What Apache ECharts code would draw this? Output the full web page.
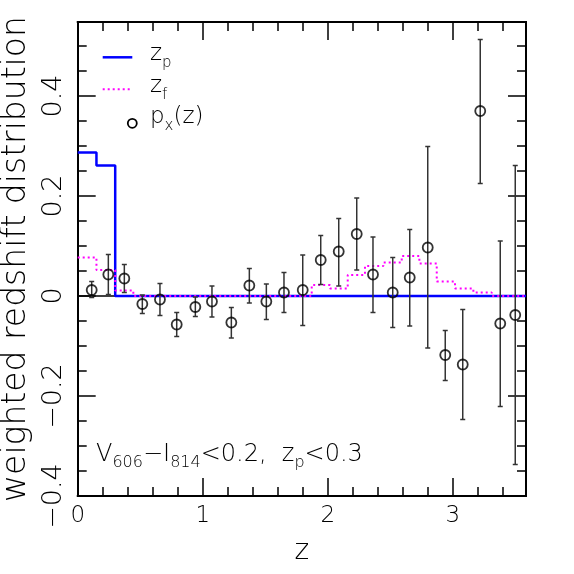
<!DOCTYPE html>
<html><head><meta charset="utf-8">
<script src="https://cdn.jsdelivr.net/npm/echarts@6/dist/echarts.min.js"></script>
<style>html,body{margin:0;padding:0;background:#fff}#c{width:574px;height:574px}</style>
</head><body><div id="c"></div>
<script>
// ---- data ----
const pointZ     = [0.112, 0.245, 0.373, 0.517, 0.658, 0.792, 0.941, 1.074, 1.229, 1.373, 1.509, 1.650, 1.800, 1.944, 2.088, 2.232, 2.362, 2.520, 2.656, 2.800, 2.940, 3.080, 3.220, 3.380, 3.500];
const pointValue = [0.012, 0.043, 0.035, -0.016, -0.007, -0.057, -0.022, -0.011, -0.053, 0.021, -0.011, 0.007, 0.012, 0.072, 0.089, 0.124, 0.043, 0.007, 0.037, 0.097, -0.118, -0.137, 0.370, -0.055, -0.038];
const errorHigh  = [0.029, 0.083, 0.063, 0.002, 0.025, -0.033, -0.002, 0.020, -0.023, 0.055, 0.024, 0.047, 0.082, 0.121, 0.155, 0.196, 0.118, 0.077, 0.133, 0.299, -0.069, -0.027, 0.513, 0.110, 0.261];
const errorLow   = [-0.003, 0.003, 0.007, -0.035, -0.039, -0.081, -0.041, -0.042, -0.084, -0.014, -0.047, -0.033, -0.059, 0.023, 0.020, 0.052, -0.033, -0.063, -0.060, -0.104, -0.169, -0.247, 0.225, -0.221, -0.337];

const zpEdges  = [0, 0.15, 0.30];
const zpValues = [0.287, 0.261, 0];

const zfEdges  = [0, 0.15, 0.30, 0.445, 1.872, 2.018, 2.160, 2.298, 2.445, 2.592, 2.733, 2.872, 3.018, 3.165, 3.312];
const zfValues = [0.077, 0.052, 0.011, 0, 0.022, 0.015, 0.042, 0.060, 0.067, 0.080, 0.065, 0.029, 0.015, 0.007, 0];

const xTickValues = [0, 1, 2, 3];
const xTickLabels = ['0', '1', '2', '3'];
const yTickValues = [-0.4, -0.2, 0, 0.2, 0.4];
const yTickLabels = ['\u22120.4', '\u22120.2', '0', '0.2', '0.4'];

const X_MIN = 0, X_MAX = 3.586, Y_MIN = -0.4, Y_MAX = 0.548;

// ---- build ----
function stepData(edges, values) {
  const d = edges.map((e, i) => [e, values[i]]);
  d.push([X_MAX, values[values.length - 1]]);
  return d;
}
function labelFor(vals, labs) {
  return function (v) {
    for (let i = 0; i < vals.length; i++) if (Math.abs(v - vals[i]) < 1e-6) return labs[i];
    return '';
  };
}
const FONT = 'DejaVu Sans';
const FW = 200;
const gridBox = { left: 77.7, right: 48, top: 22, bottom: 78, outerBoundsMode: 'none', containLabel: false };
const grids = [0, 1, 2, 3].map(() => Object.assign({}, gridBox));

function xAx(idx, pos, interval, len, labels) {
  return {
    type: 'value', gridIndex: idx, position: pos, min: X_MIN, max: X_MAX, interval: interval,
    axisLine: { show: true, onZero: false, lineStyle: { color: '#000', width: 2 } },
    axisTick: { show: true, inside: true, length: len, lineStyle: { color: '#000', width: 1.5 } },
    splitLine: { show: false },
    axisLabel: labels ? { show: true, margin: 9, color: '#000', fontFamily: FONT, fontWeight: FW, fontSize: 23, formatter: labelFor(xTickValues, xTickLabels) } : { show: false },
    name: labels ? 'z' : '', nameLocation: 'middle', nameGap: 42,
    nameTextStyle: { color: '#000', fontFamily: FONT, fontWeight: FW, fontSize: 28 }
  };
}
function yAx(idx, pos, interval, len, labels) {
  return {
    type: 'value', gridIndex: idx, position: pos, min: Y_MIN, max: Y_MAX, interval: interval,
    axisLine: { show: true, onZero: false, lineStyle: { color: '#000', width: 2 } },
    axisTick: { show: true, inside: true, length: len, lineStyle: { color: '#000', width: 1.5 } },
    splitLine: { show: false },
    axisLabel: labels ? { show: true, rotate: 90, margin: 10, color: '#000', fontFamily: FONT, fontWeight: FW, fontSize: 27, formatter: labelFor(yTickValues, yTickLabels) } : { show: false },
    name: labels ? 'weighted redshift distribution' : '', nameLocation: 'middle', nameGap: 40, nameRotate: 90,
    nameTextStyle: { color: '#000', fontFamily: FONT, fontWeight: FW, fontSize: 33 }
  };
}

const errData = pointZ.map((z, i) => [z, errorLow[i], errorHigh[i]]);
const ptData = pointZ.map((z, i) => [z, pointValue[i]]);

function richStyle(mainSize, subSize, drop) {
  return {
    m: { fontFamily: FONT, fontWeight: FW, fontSize: mainSize, lineHeight: mainSize + 6, verticalAlign: 'top', fill: '#000' },
    s: { fontFamily: FONT, fontWeight: FW, fontSize: subSize, lineHeight: subSize, verticalAlign: 'top', padding: [drop, 0, 0, 0], fill: '#000' }
  };
}

const option = {
  animation: false,
  backgroundColor: '#fff',
  grid: grids,
  xAxis: [xAx(0, 'bottom', 1, 18, true), xAx(1, 'top', 1, 18, false), xAx(2, 'bottom', 0.2, 9, false), xAx(3, 'top', 0.2, 9, false)],
  yAxis: [yAx(0, 'left', 0.2, 18, true), yAx(1, 'right', 0.2, 18, false), yAx(2, 'left', 0.05, 9, false), yAx(3, 'right', 0.05, 9, false)],
  series: [
    {
      type: 'line', name: 'zero', xAxisIndex: 0, yAxisIndex: 0, data: [[X_MIN, 0], [X_MAX, 0]],
      symbol: 'none', lineStyle: { color: '#000', width: 1.5 }, z: 1
    },
    {
      type: 'line', name: 'zp', xAxisIndex: 0, yAxisIndex: 0, step: 'end', data: stepData(zpEdges, zpValues),
      symbol: 'none', lineStyle: { color: '#0000ff', width: 2.5 }, z: 2
    },
    {
      type: 'line', name: 'zf', xAxisIndex: 0, yAxisIndex: 0, step: 'end', data: stepData(zfEdges, zfValues),
      symbol: 'none', lineStyle: { color: '#ff00ff', width: 2, type: [2, 3] }, z: 3
    },
    {
      type: 'custom', name: 'err', xAxisIndex: 0, yAxisIndex: 0, data: errData, z: 4,
      renderItem: function (params, api) {
        const lo = api.coord([api.value(0), api.value(1)]);
        const hi = api.coord([api.value(0), api.value(2)]);
        const st = { stroke: '#333', lineWidth: 1.5 };
        const c = 2.5;
        return { type: 'group', children: [
          { type: 'line', shape: { x1: lo[0], y1: lo[1], x2: hi[0], y2: hi[1] }, style: st },
          { type: 'line', shape: { x1: lo[0] - c, y1: lo[1], x2: lo[0] + c, y2: lo[1] }, style: st },
          { type: 'line', shape: { x1: hi[0] - c, y1: hi[1], x2: hi[0] + c, y2: hi[1] }, style: st }
        ] };
      }
    },
    {
      type: 'scatter', name: 'px', xAxisIndex: 0, yAxisIndex: 0, data: ptData, z: 5,
      symbol: 'circle', symbolSize: 10,
      itemStyle: { color: 'rgba(0,0,0,0)', borderColor: '#000', borderWidth: 1.8 }
    }
  ],
  graphic: [
    { type: 'line', shape: { x1: 102.7, y1: 57.3, x2: 132.3, y2: 57.3 }, style: { stroke: '#0000ff', lineWidth: 2.5 } },
    { type: 'line', shape: { x1: 102.7, y1: 89.3, x2: 132.3, y2: 89.3 }, style: { stroke: '#ff00ff', lineWidth: 2, lineDash: [2, 3] } },
    { type: 'circle', shape: { cx: 132.3, cy: 123.3, r: 4.5 }, style: { stroke: '#000', lineWidth: 1.8, fill: 'none' } },
    { type: 'text', left: 150, top: 43, style: { text: '{m|z}{s|p}', rich: richStyle(23, 15, 13) } },
    { type: 'text', left: 150, top: 75, style: { text: '{m|z}{s|f}', rich: richStyle(23, 15, 13) } },
    { type: 'text', left: 150, top: 106, style: { text: '{m|p}{s|x}{m|(z)}', rich: richStyle(23, 15, 13) } },
    { type: 'text', left: 96, top: 443, style: { text: '{m|V}{s|606}{m|\u2212I}{s|814}{m|<0.2,  z}{s|p}{m|<0.3}', rich: richStyle(24, 16, 12) } }
  ]
};
const chart = echarts.init(document.getElementById('c'), null, { renderer: 'canvas' });
chart.setOption(option);
</script>
</body></html>
